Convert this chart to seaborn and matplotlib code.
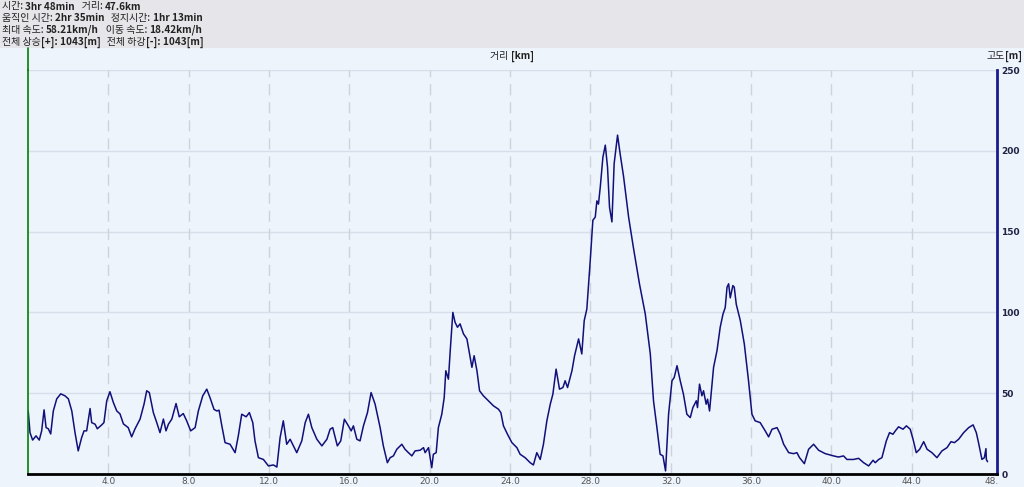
import numpy as np
import pandas as pd
import matplotlib
matplotlib.use("Agg")
import matplotlib.pyplot as plt
import seaborn as sns
from matplotlib.lines import Line2D
from matplotlib.patches import Rectangle
from matplotlib.offsetbox import TextArea, HPacker, AnchoredOffsetbox

# ----------------------------------------------------------
# Elevation profile data (distance in km, elevation in m)
# ----------------------------------------------------------
distance_km = [
    0.01, 0.10, 0.23, 0.40, 0.56, 0.68, 0.80, 0.90, 1.01, 1.13, 1.26, 1.43, 1.63, 1.84,
    2.01, 2.18, 2.34, 2.50, 2.67, 2.79, 2.92, 3.09, 3.17, 3.34, 3.45, 3.67, 3.78, 3.92,
    4.08, 4.25, 4.42, 4.58, 4.75, 4.99, 5.16, 5.33, 5.58, 5.78, 5.91, 6.04, 6.24, 6.41,
    6.57, 6.74, 6.87, 6.99, 7.16, 7.37, 7.53, 7.73, 7.90, 8.10, 8.32, 8.48, 8.70, 8.90,
    9.06, 9.26, 9.40, 9.51, 9.65, 9.81, 10.06, 10.31, 10.47, 10.64, 10.86, 11.02, 11.19,
    11.30, 11.47, 11.72, 11.97, 12.22, 12.39, 12.55, 12.71, 12.88, 13.05, 13.38, 13.63,
    13.80, 13.96, 14.13, 14.38, 14.63, 14.88, 15.04, 15.17, 15.40, 15.57, 15.75, 15.95,
    16.09, 16.20, 16.37, 16.53, 16.70, 16.90, 17.08, 17.28, 17.53, 17.69, 17.89, 18.03,
    18.19, 18.36, 18.61, 18.77, 18.94, 19.11, 19.27, 19.52, 19.69, 19.77, 19.94, 20.10,
    20.18, 20.32, 20.43, 20.60, 20.72, 20.80, 20.93, 21.02, 21.15, 21.26, 21.38, 21.51,
    21.68, 21.85, 21.98, 22.10, 22.21, 22.35, 22.48, 22.67, 22.92, 23.17, 23.42, 23.54,
    23.67, 23.87, 24.09, 24.34, 24.50, 24.75, 25.00, 25.16, 25.33, 25.50, 25.66, 25.83,
    26.00, 26.13, 26.29, 26.46, 26.63, 26.74, 26.86, 27.08, 27.21, 27.41, 27.57, 27.69,
    27.82, 27.99, 28.12, 28.24, 28.32, 28.40, 28.49, 28.62, 28.74, 28.85, 28.95, 29.07,
    29.18, 29.35, 29.48, 29.65, 29.90, 30.14, 30.44, 30.73, 30.98, 31.14, 31.31, 31.47,
    31.61, 31.74, 31.89, 32.06, 32.17, 32.31, 32.47, 32.63, 32.80, 32.97, 33.10, 33.27,
    33.33, 33.43, 33.55, 33.63, 33.76, 33.83, 33.93, 34.13, 34.30, 34.46, 34.60, 34.71,
    34.80, 34.88, 34.96, 35.09, 35.16, 35.26, 35.46, 35.66, 35.87, 36.04, 36.20, 36.45,
    36.70, 36.87, 37.04, 37.29, 37.45, 37.62, 37.87, 38.11, 38.28, 38.41, 38.65, 38.86,
    39.11, 39.36, 39.69, 40.10, 40.35, 40.60, 40.77, 41.10, 41.35, 41.60, 41.85, 42.07,
    42.18, 42.35, 42.51, 42.73, 42.89, 43.06, 43.18, 43.34, 43.56, 43.73, 43.92, 44.06,
    44.22, 44.39, 44.59, 44.76, 45.00, 45.25, 45.50, 45.75, 45.95, 46.12, 46.33, 46.58,
    46.83, 47.05, 47.21, 47.32, 47.49, 47.61, 47.69, 47.71, 47.77,
]
elevation_m = [
    39.0, 25.6, 21.0, 23.6, 21.0, 26.7, 39.7, 28.7, 28.0, 24.8, 39.0, 46.5, 49.6, 48.4,
    46.5, 39.0, 25.6, 14.3, 22.5, 26.7, 26.7, 40.5, 31.8, 30.8, 28.0, 30.4, 31.8, 45.3,
    50.9, 44.2, 39.0, 37.2, 31.0, 28.7, 23.0, 28.0, 34.0, 43.4, 51.5, 50.4, 38.0, 31.8,
    25.6, 34.0, 26.7, 30.8, 34.0, 43.6, 35.4, 37.4, 32.9, 26.7, 28.7, 39.0, 48.4, 52.5,
    47.3, 40.0, 39.0, 39.5, 29.8, 19.4, 18.4, 13.2, 23.6, 37.0, 35.4, 38.0, 31.8,
    20.5, 10.1, 9.0, 5.0, 5.6, 4.3, 22.5, 32.9, 18.4, 21.5, 13.2, 20.5,
    31.8, 37.0, 28.7, 21.5, 17.4, 21.5, 27.7, 28.7, 17.4, 20.5, 33.9, 29.8,
    26.7, 29.8, 21.5, 20.5, 29.8, 38.0, 50.4, 43.2, 28.7, 17.4, 7.0, 10.1,
    11.2, 15.3, 18.4, 15.3, 13.2, 11.2, 14.3, 14.7, 16.3, 13.2, 16.3, 3.9,
    12.2, 13.2, 28.7, 37.0, 47.3, 63.9, 58.7, 76.3, 100.0, 93.9, 90.8, 92.9,
    86.7, 83.6, 74.3, 66.0, 73.2, 63.9, 51.5, 48.4, 45.3, 42.2, 40.1, 38.0,
    29.8, 24.6, 19.4, 16.3, 12.2, 10.1, 7.0, 5.6, 13.2, 9.0, 18.4, 32.9,
    43.2, 49.4, 64.9, 52.5, 53.5, 57.7, 53.5, 63.9, 73.2, 83.6, 74.3, 94.9,
    102.0, 132.0, 157.0, 159.0, 169.0, 167.0, 177.6, 196.0, 203.5, 190.0, 165.0, 156.0,
    192.0, 209.7, 198.0, 184.0, 159.0, 140.0, 117.7, 99.0, 74.3, 45.3, 28.7, 12.2,
    11.2, 1.9, 37.0, 57.7, 59.7, 67.0, 57.7, 49.4, 37.0, 34.9, 41.1, 45.3,
    41.1, 55.6, 48.4, 51.5, 43.2, 46.3, 39.0, 66.0, 76.3, 90.8, 99.0, 103.0,
    115.6, 117.7, 109.0, 116.6, 115.6, 105.0, 95.0, 80.5, 57.7, 37.0, 32.9, 31.8,
    26.7, 23.0, 27.7, 28.7, 24.6, 18.4, 13.2, 12.6, 13.2, 10.1, 6.4, 15.3,
    18.4, 14.7, 12.6, 11.2, 10.5, 11.2, 9.0, 9.0, 9.7, 7.0, 5.0, 8.5,
    7.0, 9.0, 10.1, 20.5, 25.6, 24.6, 26.7, 29.2, 27.7, 29.8, 27.7, 21.5,
    13.2, 15.3, 20.0, 15.3, 13.2, 10.1, 14.3, 16.3, 20.0, 19.4, 21.5, 25.6,
    28.7, 30.4, 25.6, 19.4, 9.0, 10.1, 15.7, 9.0, 7.6,
]

x_ticks = [4, 8, 12, 16, 20, 24, 28, 32, 36, 40, 44, 48]
x_tick_labels = ["4.0", "8.0", "12.0", "16.0", "20.0", "24.0", "28.0", "32.0",
                 "36.0", "40.0", "44.0", "48."]
y_ticks = [0, 50, 100, 150, 200, 250]

# summary lines in the header: (label, value) pieces
summary_lines = [
    [("시간: ", "3hr 48min"), ("   거리: ", "47.6km")],
    [("움직인 시간: ", "2hr 35min"), ("   정지시간: ", "1hr 13min")],
    [("최대 속도: ", "58.21km/h"), ("   이동 속도: ", "18.42km/h")],
    [("전체 상승", "[+]: 1043[m]"), ("   전체 하강", "[-]: 1043[m]")],
]

profile = pd.DataFrame({"km": distance_km, "elev": elevation_m})

# ----------------------------------------------------------
# Figure setup
# ----------------------------------------------------------
sns.set_style("white")
plt.rcParams["font.family"] = ["Noto Sans CJK KR", "DejaVu Sans"]

bg_color = "#eef4fc"
W, H = 1024, 487
fig = plt.figure(figsize=(W / 100, H / 100), dpi=100, facecolor=bg_color)

# header band
fig.add_artist(Rectangle((0, 1 - 48 / H), 1, 48 / H, transform=fig.transFigure,
                         facecolor="#e6e6ea", edgecolor="none", zorder=0))

ax = fig.add_axes([28 / W, 13 / H, 969 / W, 404 / H])
ax.set_facecolor(bg_color)

sns.lineplot(data=profile, x="km", y="elev", ax=ax, color="#10107a",
             linewidth=1.1, sort=False, estimator=None)

ax.set_xlim(0, 48.24)
ax.set_ylim(0, 250)

# grid
for yv in y_ticks[1:]:
    ax.axhline(yv, color="#d8dee8", linewidth=1.0, zorder=0)
for xv in x_ticks[:-1]:
    ax.axvline(xv, color="#cfd2d8", linewidth=1.0, linestyle=(0, (8, 5)), zorder=0)

# spines
ax.spines["top"].set_visible(False)
ax.spines["left"].set_color("#008000")
ax.spines["left"].set_linewidth(1.2)
ax.spines["right"].set_color("#1a1a8c")
ax.spines["right"].set_linewidth(2.0)
ax.spines["bottom"].set_color("#000000")
ax.spines["bottom"].set_linewidth(2.0)

# green line continues up to the header
fig.add_artist(Line2D([28 / W, 28 / W], [1 - 70 / H, 1 - 48 / H], transform=fig.transFigure,
                      color="#008000", linewidth=1.2))

# ticks
ax.set_xticks(x_ticks)
ax.set_xticklabels(x_tick_labels, fontsize=6.5, color="#555555", family="DejaVu Sans")
ax.yaxis.tick_right()
ax.set_yticks(y_ticks)
ax.set_yticklabels([str(v) for v in y_ticks], fontsize=6.5, fontweight="bold",
                   color="#222244", family="DejaVu Sans")
ax.tick_params(axis="both", length=0, pad=2)
ax.tick_params(axis="y", pad=3)
ax.set_xlabel("")
ax.set_ylabel("")


# ----------------------------------------------------------
# Mixed-weight text helper
# ----------------------------------------------------------
def mixed_text(pieces, x, y, loc="upper left", size=7.2):
    children = []
    for txt, bold in pieces:
        children.append(TextArea(txt, textprops=dict(fontsize=size, color="#222222",
                                                      fontweight="bold" if bold else "normal")))
    box = HPacker(children=children, align="baseline", pad=0, sep=0)
    anchored = AnchoredOffsetbox(loc=loc, child=box, pad=0, borderpad=0, frameon=False,
                                 bbox_to_anchor=(x, y), bbox_transform=fig.transFigure)
    fig.add_artist(anchored)


for i, line in enumerate(summary_lines):
    pieces = []
    for label, value in line:
        pieces.append((label, False))
        pieces.append((value, True))
    mixed_text(pieces, 2 / W, 1 - (1.5 + i * 11.7) / H)

# axis titles
mixed_text([("거리 ", False), ("[km]", True)], 512 / W, 1 - 51 / H, loc="upper center")
mixed_text([("고도", False), ("[m]", True)], 1022 / W, 1 - 51 / H, loc="upper right")

plt.savefig("out.png", dpi=100, facecolor=bg_color)
